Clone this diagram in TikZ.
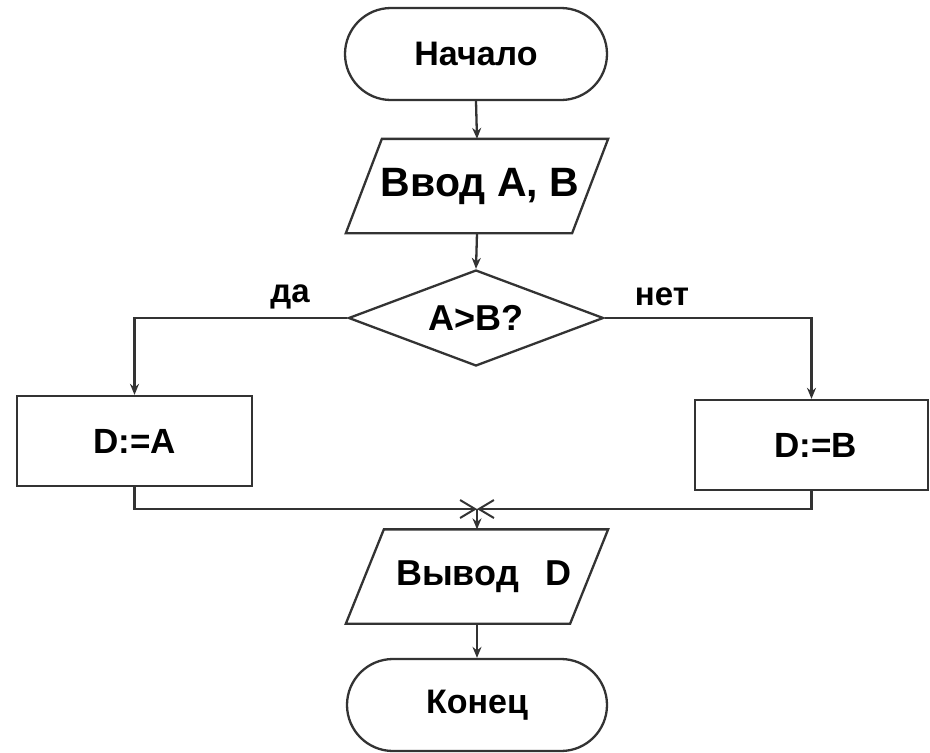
\documentclass[tikz,border=0pt]{standalone}
\usepackage{fontspec}
\setmainfont{Liberation Sans}
\usetikzlibrary{shapes.geometric,shapes.misc,arrows.meta}
\definecolor{linec}{HTML}{333333}
\tikzset{
  base/.style={draw=linec, line width=2.3pt, inner sep=0pt, font=\bfseries, text=black},
  term/.style={base, rounded rectangle, rounded rectangle arc length=180, minimum width=#1, minimum height=92pt},
  iobox/.style={base, draw=none, rectangle, minimum width=260pt, minimum height=92pt},
  ioline/.style={draw=linec, line width=2.3pt, line join=miter},
  proc/.style={base, rectangle, minimum width=#1, minimum height=90pt},
  decide/.style={base, diamond, aspect=2.66, minimum width=255pt, minimum height=96pt},
  arr/.style={draw=linec, line width=2.3pt, -{Stealth[length=11pt,width=9pt]}},
  openarr/.style={draw=linec, line width=2.3pt, -{Straight Barb[length=15pt,width=18pt,line width=2pt]}},
  lbl/.style={font=\bfseries\fontsize{33}{36}\selectfont, inner sep=0pt}
}
\begin{document}
\begin{tikzpicture}[x=1pt,y=-1pt]
\useasboundingbox (0,0) rectangle (930,753);
\node[term=262pt, font=\bfseries\fontsize{34}{38}\selectfont] (start) at (476,54) {Начало};
\node[iobox, font=\bfseries\fontsize{41}{44}\selectfont] (in) at (477,186) {\hspace{6pt}Ввод A, B};
\draw[ioline] ([xshift=36pt]in.north west) -- (in.north east) -- ([xshift=-36pt]in.south east) -- (in.south west) -- cycle;
\node[decide, font=\bfseries\fontsize{36}{40}\selectfont] (dec) at (476,318) {A>B?};
\node[proc=235pt, font=\bfseries\fontsize{35}{38}\selectfont] (ya) at (134.5,441) {D:=A\hspace{20pt}};
\node[proc=233pt, font=\bfseries\fontsize{35}{38}\selectfont] (yb) at (811.5,445) {\hspace{8pt}D:=B};
\node[iobox, font=\bfseries\fontsize{36}{40}\selectfont] (out) at (477,576.5) {\hspace{14pt}Вывод\hspace{0.75em}D};
\draw[ioline] ([xshift=38pt]out.north west) -- (out.north east) -- ([xshift=-38pt]out.south east) -- (out.south west) -- cycle;
\node[term=260pt, font=\bfseries\fontsize{34}{38}\selectfont] (end) at (477,705) {Конец};
\node[lbl] (yes) at (290,297) {да};
\node[lbl] (no) at (662,297) {нет};
\coordinate (m) at (477,509);
\draw[arr] (start.south) -- (in.north);
\draw[arr] (in.south) -- (dec.north);
\draw[arr] (dec.west) -| (ya.north);
\draw[arr] (dec.east) -| (yb.north);
\draw[openarr] (ya.south) |- (m);
\draw[openarr] (yb.south) |- (m);
\draw[arr] (m) -- (out.north);
\draw[arr] (out.south) -- (end.north);
\end{tikzpicture}
\end{document}
